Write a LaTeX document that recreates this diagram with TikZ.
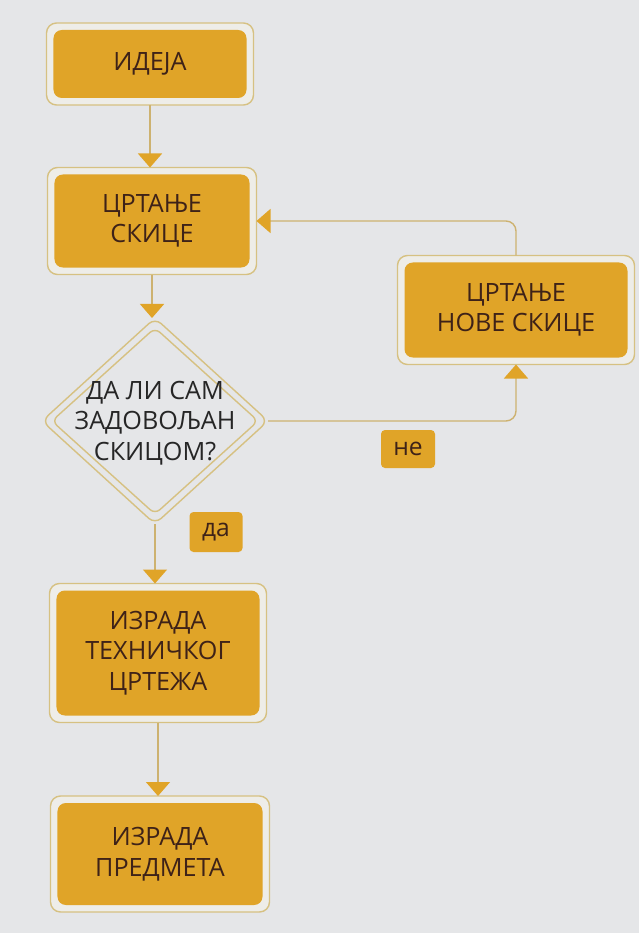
\documentclass[tikz,border=0pt]{standalone}
\usepackage{fontspec}
\setmainfont{Open Sans}
\usetikzlibrary{shapes.geometric,arrows.meta,backgrounds}
\definecolor{zlato}{RGB}{224,164,40}
\definecolor{rub}{RGB}{214,193,130}
\definecolor{linija}{RGB}{205,178,112}
\definecolor{slova}{RGB}{62,34,24}
\definecolor{papir}{RGB}{229,230,232}
\definecolor{procep}{RGB}{238,237,232}

\begin{document}
\begin{tikzpicture}[x=0.03cm,y=-0.03cm,
  kutija/.style={rectangle,rounded corners=0.25cm,fill=zlato,text=slova,align=center,
    inner sep=0pt,outer sep=0.21cm,font=\fontsize{21.5}{26}\selectfont},
  pitanje/.style={diamond,draw=rub,line width=1.2pt,rounded corners=0.2cm,inner sep=0pt,
    outer sep=0.21cm,minimum width=6.36cm,minimum height=5.76cm},
  oznaka/.style={rectangle,rounded corners=0.12cm,fill=zlato,text=slova,inner sep=0pt,
    font=\fontsize{21}{24}\selectfont},
  veza/.style={draw=linija,line width=1.2pt,rounded corners=0.3cm,
    -{Triangle[width=0.72cm,length=0.42cm,color=zlato]}}]
\useasboundingbox (0,0) rectangle (639,933);

% koraci
\node[kutija,minimum width=5.79cm,minimum height=2.04cm] (ideja) at (150,64) {ИДЕЈА};
\node[kutija,minimum width=5.85cm,minimum height=2.79cm] (skica) at (152,221) {ЦРТАЊЕ\\СКИЦЕ};
\node[pitanje] (pitanje) at (155,421) {};
\node[text=black!85,align=center,font=\fontsize{21.5}{26}\selectfont] (pitanjet) at (155,423)
  {ДА ЛИ САМ\\ЗАДОВОЉАН\\СКИЦОМ?};
\node[kutija,minimum width=6.69cm,minimum height=2.85cm] (nova) at (516,310) {ЦРТАЊЕ\\НОВЕ СКИЦЕ};
\node[kutija,minimum width=6.09cm,minimum height=3.75cm] (crtez) at (158,653) {ИЗРАДА\\ТЕХНИЧКОГ\\ЦРТЕЖА};
\node[kutija,minimum width=6.15cm,minimum height=3.06cm] (predmet) at (160,854) {ИЗРАДА\\ПРЕДМЕТА};

% odgovori
\node[oznaka,minimum width=1.59cm,minimum height=1.2cm] (da) at (216,532) {да};
\node[oznaka,minimum width=1.62cm,minimum height=1.14cm] (ne) at (408,449) {не};

% veze
\draw[veza] (ideja.south) -- (ideja.south |- skica.north);
\draw[veza] (skica.south) -- (skica.south |- pitanje.north);
\draw[veza] (pitanje.east) -| (nova.south);
\draw[veza] (nova.north) |- (skica.east);
\draw[veza] (pitanje.south) -- (pitanje.south |- crtez.north);
\draw[veza] (crtez.south) -- (crtez.south |- predmet.north);

% papir i rubovi
\begin{scope}[on background layer]
\fill[papir] (0,0) rectangle (639,933);
\foreach \n in {ideja,skica,nova,crtez,predmet}
  \draw[rub,fill=procep,line width=1.2pt,rounded corners=0.3cm] (\n.south west) rectangle (\n.north east);
\draw[rub,line width=1.2pt,rounded corners=0.25cm] (pitanje.north) -- (pitanje.east) -- (pitanje.south) -- (pitanje.west) -- cycle;
\end{scope}
\end{tikzpicture}
\end{document}
